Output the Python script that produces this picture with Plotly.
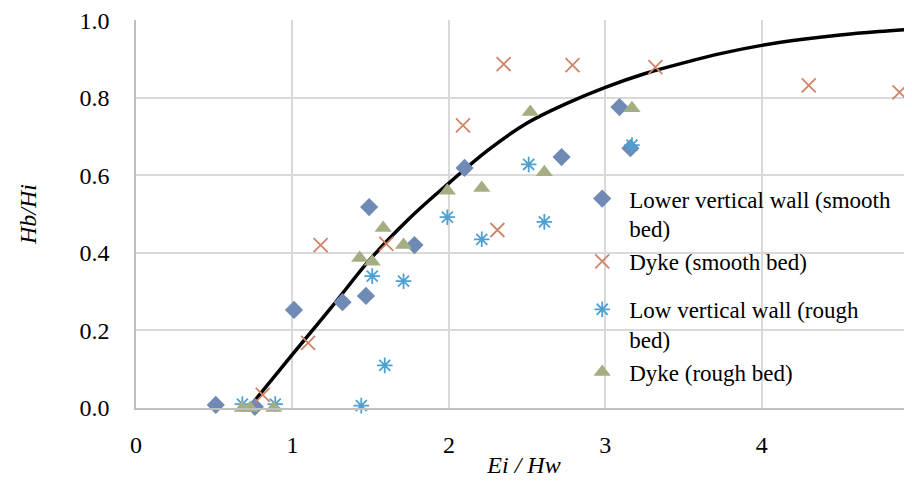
import plotly.graph_objects as go

# ---- data ----
lvw_smooth_x = [0.51, 0.76, 1.01, 1.32, 1.47, 1.49, 1.78, 2.10, 2.72, 3.09, 3.16]
lvw_smooth_y = [0.008, 0.003, 0.253, 0.273, 0.289, 0.518, 0.420, 0.619, 0.647, 0.776, 0.670]

dyke_smooth_x = [0.81, 1.10, 1.18, 1.60, 2.09, 2.31, 2.35, 2.79, 3.32, 4.30, 4.88]
dyke_smooth_y = [0.034, 0.168, 0.420, 0.423, 0.729, 0.459, 0.887, 0.884, 0.879, 0.832, 0.814]

lvw_rough_x = [0.68, 0.89, 1.44, 1.59, 1.51, 1.71, 1.99, 2.21, 2.51, 2.61, 3.17]
lvw_rough_y = [0.010, 0.010, 0.006, 0.110, 0.340, 0.327, 0.492, 0.435, 0.628, 0.480, 0.678]

dyke_rough_x = [0.68, 0.73, 0.88, 1.43, 1.51, 1.58, 1.71, 1.99, 2.21, 2.52, 2.61, 3.17]
dyke_rough_y = [0.0, 0.0, 0.0, 0.387, 0.377, 0.464, 0.420, 0.560, 0.567, 0.763, 0.608, 0.773]

curve_x = [0.72, 1.0, 1.25, 1.5, 1.75, 2.0, 2.25, 2.5, 2.75, 3.0, 3.25, 3.5, 3.75, 4.0, 4.25, 4.5, 4.75, 4.96]
curve_y = [0.0, 0.138, 0.26, 0.385, 0.49, 0.58, 0.665, 0.735, 0.785, 0.827, 0.862, 0.89, 0.915, 0.935, 0.95, 0.962, 0.971, 0.977]

x_ticks = [0, 1, 2, 3, 4]
y_ticks = [0.0, 0.2, 0.4, 0.6, 0.8, 1.0]

FONT = "Liberation Serif, Times New Roman, serif"

fig = go.Figure()

fig.add_trace(go.Scatter(
    x=curve_x, y=curve_y, mode="lines", line=dict(color="black", width=3.5, shape="spline"),
    showlegend=False, hoverinfo="skip"))

fig.add_trace(go.Scatter(
    x=lvw_smooth_x, y=lvw_smooth_y, mode="markers", name="Lower vertical wall (smooth<br>bed)",
    legendgroup="smooth",
    marker=dict(symbol="diamond", size=14, color="#6F8BB5", line=dict(width=0)), cliponaxis=False))

fig.add_trace(go.Scatter(
    x=dyke_smooth_x, y=dyke_smooth_y, mode="markers", name="Dyke (smooth bed)",
    legendgroup="smooth",
    marker=dict(symbol="x-thin-open", size=14, color="#CF8468", line=dict(width=1.8, color="#CF8468")),
    cliponaxis=False))

fig.add_trace(go.Scatter(
    x=lvw_rough_x, y=lvw_rough_y, mode="markers", name="Low vertical wall (rough<br>bed)",
    legendgroup="rough",
    marker=dict(symbol="asterisk-open", size=13, color="#4FA0D2", line=dict(width=1.8, color="#4FA0D2")),
    cliponaxis=False))

fig.add_trace(go.Scatter(
    x=dyke_rough_x, y=dyke_rough_y, mode="markers", name="Dyke (rough bed)",
    legendgroup="rough",
    marker=dict(symbol="triangle-up", size=15, color="#A3AF82", line=dict(width=0)), cliponaxis=False))

fig.update_layout(
    width=904, height=475,
    margin=dict(l=128, r=0, t=12, b=75),
    paper_bgcolor="white", plot_bgcolor="white",
    font=dict(family=FONT, size=24, color="black"),
    legend=dict(
        x=0.566, y=0.595, xanchor="left", yanchor="top",
        bgcolor="rgba(0,0,0,0)", font=dict(family=FONT, size=23, color="black"),
        valign="top", traceorder="grouped", tracegroupgap=15, itemwidth=44),
    xaxis=dict(
        range=[0, 4.96], tickvals=x_ticks, ticktext=[str(v) for v in x_ticks],
        showgrid=True, gridcolor="#D9D9D9", gridwidth=1.5,
        showline=True, linecolor="#BFBFBF", linewidth=1.5,
        zeroline=False, ticks="", ticklabelstandoff=14,
        title=dict(text="<i>Ei / Hw</i>", standoff=0, font=dict(size=24))),
    yaxis=dict(
        range=[0, 1.0005], tickvals=y_ticks, ticktext=[f"{v:.1f}" for v in y_ticks],
        showgrid=True, gridcolor="#D9D9D9", gridwidth=1.5,
        showline=True, linecolor="#BFBFBF", linewidth=1.5,
        zeroline=False, ticks="", ticklabelstandoff=20, ticklabeloverflow="allow",
        title=dict(text="<i>Hb/Hi</i>", standoff=36, font=dict(size=24))),
)

fig.write_html("out.html")
